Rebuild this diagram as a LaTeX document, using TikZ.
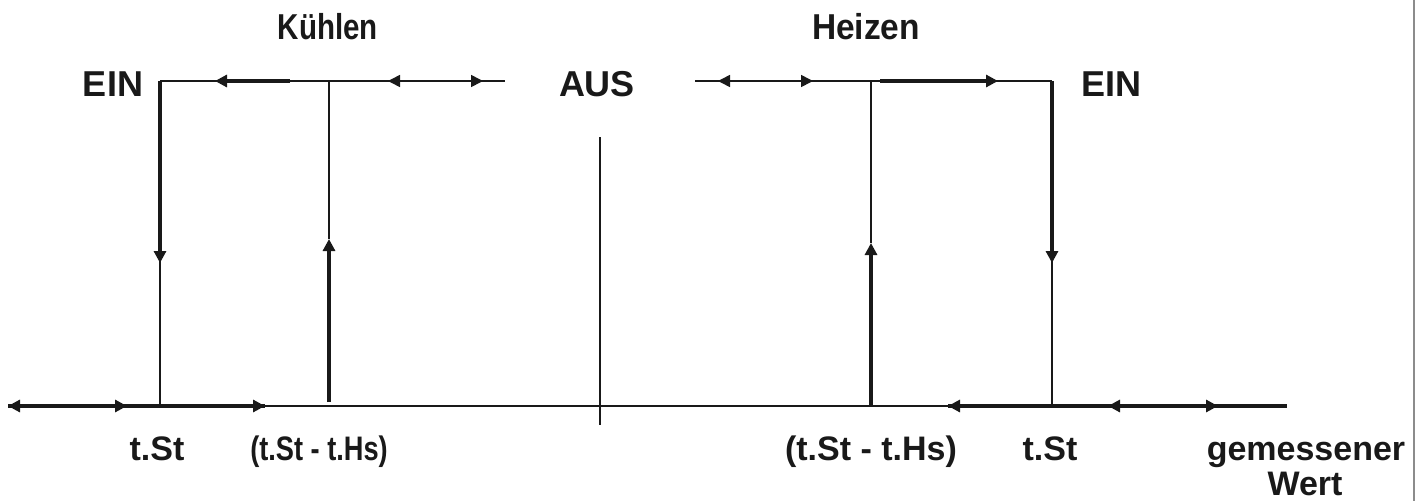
\documentclass[tikz,border=0pt]{standalone}
\usepackage{fontspec}
\setmainfont{Liberation Sans}
\usetikzlibrary{arrows.meta}
\begin{document}
\begin{tikzpicture}[x=1pt,y=-1pt,
  thin line/.style={line width=1.6pt, draw=black!90},
  thick line/.style={line width=3.4pt, draw=black!90},
  tip/.style={-{Triangle[length=12pt,width=12pt]}},
  lbl/.style={font=\fontsize{34}{36}\selectfont\bfseries, inner sep=0pt, anchor=base, text=black!90},
  biglbl/.style={lbl, font=\fontsize{36}{38}\selectfont\bfseries}]
\useasboundingbox (0,0) rectangle (1425,501);
% border line
\draw[line width=2pt, draw=black!45] (1414,0) -- (1414,501);
% coordinates
\coordinate (tlc) at (160,81);
\coordinate (tle) at (505,81);
\coordinate (trs) at (695,81);
\coordinate (trc) at (1052,81);
\coordinate (bl) at (8,406);
\coordinate (br) at (1287,406);
\coordinate (k1) at (160,406);
\coordinate (k2top) at (329,81);
\coordinate (k2bot) at (329,402);
\coordinate (h1top) at (871,81);
\coordinate (h1bot) at (871,406);
\coordinate (h2) at (1052,406);
\coordinate (mtop) at (600,137);
\coordinate (mbot) at (600,425);
% mid coordinates for arrows
\coordinate (a1) at (290,81);  \coordinate (a1t) at (215,81);
\coordinate (a2) at (430,81);  \coordinate (a2t) at (388,81);
\coordinate (a3) at (440,81);  \coordinate (a3t) at (483,81);
\coordinate (a4) at (760,81);  \coordinate (a4t) at (718,81);
\coordinate (a5) at (770,81);  \coordinate (a5t) at (813,81);
\coordinate (a6) at (880,81);  \coordinate (a6t) at (998,81);
\coordinate (v1t) at (160,263);
\coordinate (v2t) at (329,239);
\coordinate (v3t) at (871,243);
\coordinate (v4t) at (1052,263);
\coordinate (b1) at (70,406);  \coordinate (b1t) at (127,406);
\coordinate (b2) at (200,406); \coordinate (b2t) at (265,406);
\coordinate (b3) at (1052,406);\coordinate (b3t) at (948,406);
\coordinate (b4) at (1160,406);\coordinate (b4t) at (1108,406);
\coordinate (b5) at (1160,406);\coordinate (b5t) at (1218,406);
% base lines
\draw[thin line] (tlc) -- (tle);
\draw[thin line] (trs) -- (trc);
\draw[thin line] (bl) -- (br);
\draw[thin line] (mtop) -- (mbot);
% verticals
\draw[thin line] (tlc) -- (k1);
\draw[thin line] (k2top) -- (v2t);
\draw[thin line] (h1top) -- (v3t);
\draw[thin line] (trc) -- (h2);
\draw[thick line, tip] (tlc) -- (v1t);
\draw[thick line, tip] (k2bot) -- (v2t);
\draw[thick line, tip] (h1bot) -- (v3t);
\draw[thick line, tip] (trc) -- (v4t);
% top arrows
\draw[thick line, tip] (a1) -- (a1t);
\draw[thin line, tip] (a2) -- (a2t);
\draw[thin line, tip] (a3) -- (a3t);
\draw[thin line, tip] (a4) -- (a4t);
\draw[thin line, tip] (a5) -- (a5t);
\draw[thick line, tip] (a6) -- (a6t);
% bottom arrows
\draw[thick line] (bl) -- (b2t);
\draw[thick line, tip] (b1) -- (bl);
\draw[thick line, tip] (b1) -- (b1t);
\draw[thick line, tip] (b2) -- (b2t);
\draw[thick line] (b3t) -- (br);
\draw[thick line, tip] (b3) -- (b3t);
\draw[thick line, tip] (b4) -- (b4t);
\draw[thick line, tip] (b5) -- (b5t);
% labels
\node[biglbl] (kuehlen) at (328,39) {\scalebox{0.82}[1]{Kühlen}};
\node[biglbl] (heizen) at (866,39) {\scalebox{0.93}[1]{Heizen}};
\node[biglbl] (einl) at (113,96) {EIN};
\node[biglbl] (aus) at (597,96) {AUS};
\node[biglbl] (einr) at (1111,96) {EIN};
\node[lbl] (tstl) at (157,460) {t.St};
\node[lbl] (diffl) at (319,460) {\scalebox{0.8}[1]{(t.St - t.Hs)}};
\node[lbl] (diffr) at (871,460) {(t.St - t.Hs)};
\node[lbl] (tstr) at (1050,460) {t.St};
\node[lbl] (gem) at (1306,460) {gemessener};
\node[lbl] (wert) at (1305,495) {Wert};
\end{tikzpicture}
\end{document}
